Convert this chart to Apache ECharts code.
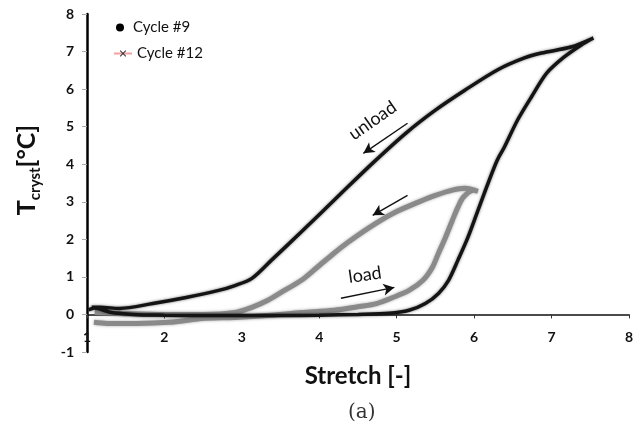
<!DOCTYPE html>
<html>
<head>
<meta charset="utf-8">
<script src="https://cdn.jsdelivr.net/npm/echarts@6/dist/echarts.min.js"></script>
<style>
  html, body { margin: 0; padding: 0; background: #fff; }
  #main { width: 636px; height: 430px; }
</style>
</head>
<body>
<div id="main"></div>
<script>
// values: [stretch, T_cryst]
var cycle9Load = [
  [1.02, 0.12], [1.1, 0.17], [1.3, 0.06], [1.6, 0.0], [2.0, -0.02], [2.5, -0.03],
  [3.0, -0.03], [3.5, -0.03], [4.0, -0.02], [4.5, 0.0], [4.9, 0.03], [5.16, 0.11],
  [5.37, 0.29], [5.54, 0.56], [5.67, 0.91], [5.79, 1.44], [5.92, 2.05], [6.05, 2.77],
  [6.18, 3.49], [6.3, 4.11], [6.39, 4.45], [6.56, 5.17], [6.74, 5.79], [6.94, 6.43],
  [7.16, 6.85], [7.38, 7.17], [7.54, 7.36]
]
var cycle9Unload = [
  [7.54, 7.36], [7.25, 7.12], [6.87, 6.96], [6.65, 6.83], [6.3, 6.51], [5.88, 5.97],
  [5.5, 5.44], [5.12, 4.83], [4.7, 4.05], [4.28, 3.22], [3.77, 2.2], [3.38, 1.44],
  [3.13, 0.96], [2.91, 0.77], [2.7, 0.64], [2.28, 0.45], [1.85, 0.29], [1.42, 0.16],
  [1.17, 0.19], [1.06, 0.19]
]
var cycle12Load = [
  [1.09, -0.21], [1.26, -0.24], [1.64, -0.24], [2.06, -0.21], [2.49, -0.11], [2.91, -0.08],
  [3.33, -0.03], [3.77, 0.05], [4.19, 0.11], [4.52, 0.21], [4.74, 0.29], [4.95, 0.45],
  [5.16, 0.64], [5.34, 0.91], [5.46, 1.25], [5.54, 1.63], [5.63, 2.05], [5.72, 2.51],
  [5.79, 2.85], [5.86, 3.12], [5.99, 3.31], [6.05, 3.28]
]
var cycle12Unload = [
  [6.05, 3.28], [5.88, 3.36], [5.72, 3.31], [5.5, 3.17], [5.28, 2.99], [4.95, 2.69],
  [4.65, 2.32], [4.35, 1.89], [4.19, 1.63], [3.97, 1.25], [3.77, 0.91], [3.55, 0.64],
  [3.33, 0.37], [3.13, 0.19], [2.91, 0.05], [2.5, 0.0], [2.0, 0.0], [1.5, 0.02], [1.1, 0.05]
]
var xTicks = [1, 2, 3, 4, 5, 6, 7, 8]
var yTicks = [-1, 0, 1, 2, 3, 4, 5, 6, 7, 8]

// arrows + labels, in data coordinates
var arrows = [
  [[5.14, 5.09], [4.57, 4.29]],
  [[5.14, 3.17], [4.69, 2.64]],
  [[4.28, 0.43], [4.97, 0.72]]
]
var notes = [
  { text: 'unload', at: [4.69, 5.16], rotate: 35 },
  { text: 'load', at: [4.59, 1.05], rotate: 8 }
]

var font = 'Lato'
var myChart = echarts.init(document.getElementById('main'))

var option = {
  animation: false,
  textStyle: { fontFamily: font },
  grid: { left: 87, right: -2, top: 14, bottom: 78 },
  legend: [
    {
      data: [{ name: 'Cycle #9', icon: 'circle', itemStyle: { color: '#000' } }],
      left: 116, top: 20, padding: 0,
      itemWidth: 16, itemHeight: 8,
      textStyle: { fontFamily: font, fontSize: 15, color: '#111' }
    },
    {
      data: [{
        name: 'Cycle #12',
        itemStyle: { color: '#333' },
        lineStyle: { color: '#f4a0a0', width: 2, shadowBlur: 0 }
      }],
      left: 113, top: 46, padding: 0,
      itemWidth: 18, itemHeight: 8,
      textStyle: { fontFamily: font, fontSize: 15, color: '#111' }
    }
  ],
  xAxis: {
    type: 'value', min: 1, max: 8, interval: 1,
    // axis sits on T = 0 (one tick above the bottom of the grid)
    offset: -37.6,
    name: 'Stretch [-]', nameLocation: 'middle', nameGap: 50,
    nameTextStyle: { fontFamily: font, fontSize: 24, fontWeight: 'bold', color: '#111' },
    axisLine: { onZero: false, lineStyle: { color: '#111', width: 1.5 } },
    axisTick: { length: 4, lineStyle: { color: '#333' } },
    axisLabel: {
      margin: 16, fontSize: 14, fontWeight: 'bold', color: '#111',
      formatter: function (v) { return xTicks.indexOf(v) >= 0 ? String(v) : '' }
    },
    splitLine: { show: false }
  },
  yAxis: {
    type: 'value', min: -1, max: 8, interval: 1,
    name: '{t|T}{s|cryst}{t|[°C]}', nameLocation: 'middle', nameGap: 48, nameRotate: 90,
    nameTextStyle: {
      padding: [0, 0, 0, 26],
      rich: {
        t: { fontFamily: font, fontSize: 25, fontWeight: 'bold', color: '#111', lineHeight: 30, verticalAlign: 'bottom' },
        s: { fontFamily: font, fontSize: 15, fontWeight: 'bold', color: '#111', lineHeight: 30, verticalAlign: 'bottom', padding: [0, 0, -4, 0] }
      }
    },
    axisLine: { show: true, onZero: false, lineStyle: { color: '#000', width: 2.5 } },
    axisTick: { show: true, length: 5, lineStyle: { color: '#aaa' } },
    axisLabel: {
      margin: 13, fontSize: 14, fontWeight: 'bold', color: '#111',
      formatter: function (v) { return yTicks.indexOf(v) >= 0 ? String(v) : '' }
    },
    splitLine: { show: false }
  },
  series: [
    {
      name: 'Cycle #9',
      type: 'line',
      data: cycle9Load.concat(cycle9Unload),
      smooth: 0.3,
      showSymbol: false,
      symbol: 'circle',
      lineStyle: { color: '#141414', width: 3.5, shadowBlur: 3, shadowColor: 'rgba(0,0,0,0.55)' },
      itemStyle: { color: '#000' },
      z: 3,
      markLine: {
        silent: true,
        symbol: ['none', 'arrow'],
        symbolSize: [9, 11],
        label: { show: false },
        lineStyle: { color: '#111', width: 1.4, type: 'solid', shadowBlur: 0 },
        data: arrows.map(function (a) { return [{ coord: a[0] }, { coord: a[1] }] })
      },
      markPoint: {
        silent: true,
        symbol: 'circle',
        symbolSize: 1,
        itemStyle: { color: 'rgba(0,0,0,0)' },
        label: { show: true, position: 'inside', fontFamily: font, fontSize: 18, color: '#111' },
        data: notes.map(function (n) {
          return { coord: n.at, label: { formatter: n.text, rotate: n.rotate } }
        })
      }
    },
    {
      name: 'Cycle #12',
      type: 'line',
      data: cycle12Load.concat(cycle12Unload),
      smooth: 0.3,
      showSymbol: false,
      symbol: 'path://M0,1L1,0L5,4L9,0L10,1L6,5L10,9L9,10L5,6L1,10L0,9L4,5Z',
      lineStyle: { color: '#8a8a8a', width: 5, shadowBlur: 3, shadowColor: 'rgba(80,80,80,0.5)' },
      itemStyle: { color: '#333' },
      z: 2
    }
  ],
  graphic: [
    {
      type: 'text', left: 348, top: 403,
      style: { text: '(a)', font: '20px "DejaVu Serif"', fill: '#333' }
    }
  ]
}
myChart.setOption(option)
</script>
</body>
</html>
